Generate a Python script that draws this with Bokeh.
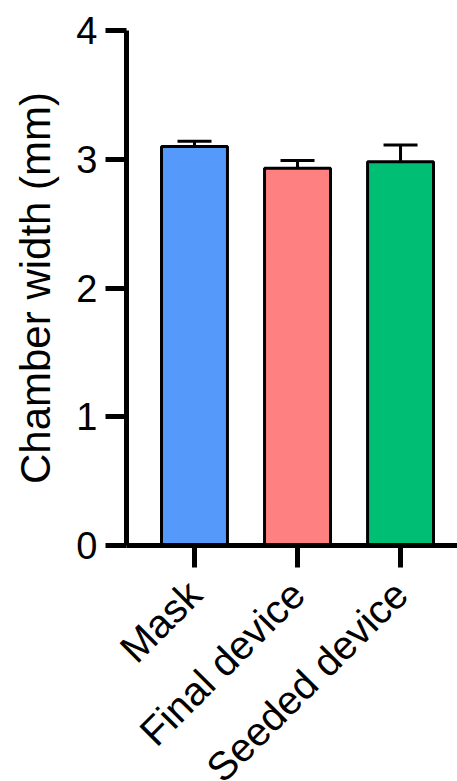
import math
from bokeh.plotting import figure
from bokeh.models import ColumnDataSource, Range1d, Whisker, TeeHead, FixedTicker
from bokeh.embed import file_html
from bokeh.resources import INLINE

categories = ["Mask", "Final device", "Seeded device"]
means = [3.10, 2.93, 2.98]
errors = [0.04, 0.06, 0.13]
colors = ["#5599FA", "#FF8080", "#00BE73"]
y_ticks = [0, 1, 2, 3, 4]

xs = list(range(len(categories)))
src = ColumnDataSource(dict(
    x=xs, top=means, color=colors,
    upper=[m + e for m, e in zip(means, errors)],
))

FONT = "Liberation Sans"

p = figure(width=457, height=781, output_backend="svg", toolbar_location=None,
           x_range=Range1d(-0.66, 2.553), y_range=Range1d(0, 4),
           min_border_left=126, min_border_right=0, min_border_top=30, min_border_bottom=236)
p.outline_line_color = None
p.grid.visible = False
p.background_fill_color = "white"

p.vbar(x="x", top="top", bottom=0, width=0.64, fill_color="color",
       line_color="black", line_width=3, source=src)

wh = Whisker(base="x", upper="upper", lower="top", source=src,
             line_color="black", line_width=3,
             upper_head=TeeHead(size=34, line_color="black", line_width=3),
             lower_head=None)
p.add_layout(wh)

ya = p.yaxis[0]
ya.ticker = FixedTicker(ticks=y_ticks)
ya.minor_tick_line_color = None
ya.axis_line_width = 5
ya.major_tick_line_width = 5
ya.major_tick_out = 21
ya.major_tick_in = 0
ya.major_label_text_font = FONT
ya.major_label_text_font_size = "38px"
ya.major_label_text_color = "black"
ya.major_label_standoff = 8
ya.axis_label = "Chamber width (mm)"
ya.axis_label_text_font = FONT
ya.axis_label_text_font_size = "42px"
ya.axis_label_text_font_style = "normal"
ya.axis_label_text_color = "black"
ya.axis_label_standoff = 14

xa = p.xaxis[0]
xa.ticker = FixedTicker(ticks=xs)
xa.major_label_overrides = {i: c for i, c in zip(xs, categories)}
xa.minor_tick_line_color = None
xa.axis_line_width = 5
xa.major_tick_line_width = 5
xa.major_tick_out = 22
xa.major_tick_in = 0
xa.major_label_orientation = math.pi / 4
xa.major_label_text_font = FONT
xa.major_label_text_font_size = "40px"
xa.major_label_text_color = "black"
xa.major_label_standoff = 20
# let the rotated labels run off the bottom edge, as in the original
xa.axis_label = " "
xa.axis_label_text_font_size = "1px"
xa.axis_label_standoff = -50

open("out.html", "w").write(file_html(p, INLINE))
